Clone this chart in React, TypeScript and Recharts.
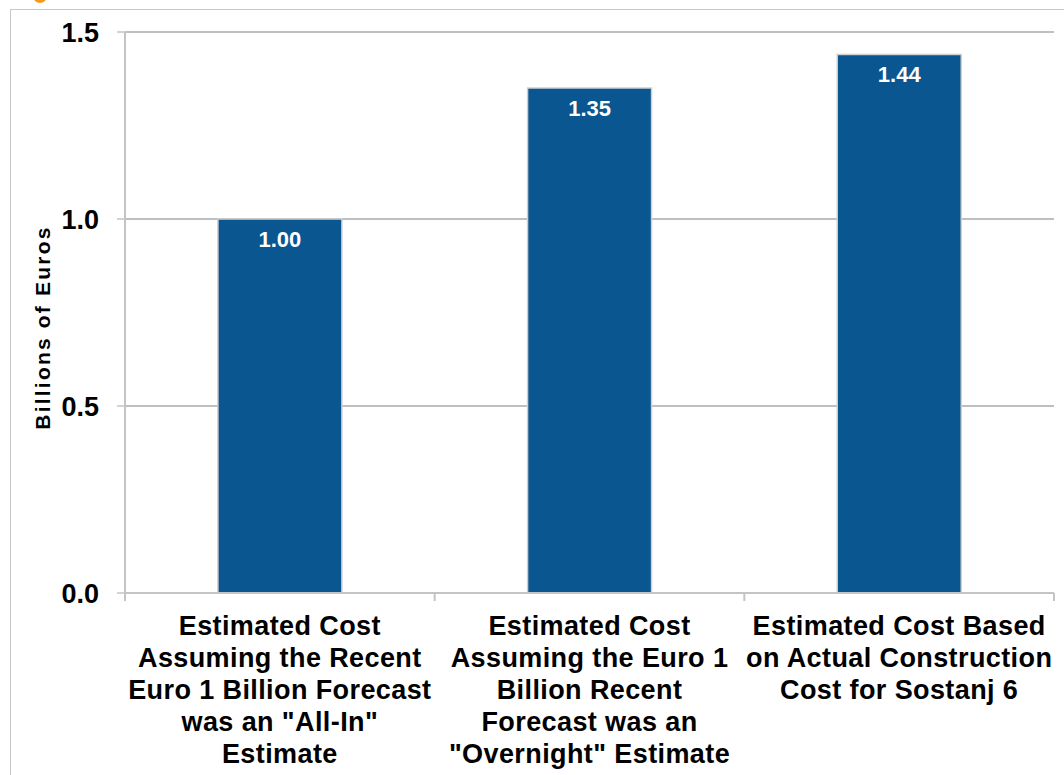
import { Bar, BarChart, CartesianGrid, LabelList, XAxis, YAxis } from 'recharts'

const categories = [
  'Estimated Cost\nAssuming the Recent\nEuro 1 Billion Forecast\nwas an "All-In"\nEstimate',
  'Estimated Cost\nAssuming the Euro 1\nBillion Recent\nForecast was an\n"Overnight" Estimate',
  'Estimated Cost Based\non Actual Construction\nCost for Sostanj 6',
]
const costs = [1.0, 1.35, 1.44]
const yTicks = [0, 0.5, 1.0, 1.5]

const data = categories.map((name, i) => ({ name, cost: costs[i] }))

const W = 1064
const H = 775
const margin = { top: 32, right: 10, bottom: 0, left: 0 }
const yAxisWidth = 125
const bandHalf = (W - margin.left - margin.right - yAxisWidth) / categories.length / 2

const font = '"Liberation Sans", Arial, Helvetica, sans-serif'
const axisGray = '#c4c4c4'

function CategoryTick(props: any) {
  const { x, y, payload, index } = props
  const lines = String(payload.value).split('\n')
  return (
    <g>
      {index === 0 && (
        <line x1={x - bandHalf} x2={x - bandHalf} y1={y - 8} y2={y} stroke={axisGray} strokeWidth={2} />
      )}
      <line x1={x + bandHalf} x2={x + bandHalf} y1={y - 8} y2={y} stroke={axisGray} strokeWidth={2} />
      <text
        x={x}
        y={y + 34}
        textAnchor="middle"
        fontFamily={font}
        fontSize={27}
        fontWeight="bold"
        letterSpacing={0.4}
        fill="#000"
      >
        {lines.map((l, i) => (
          <tspan key={i} x={x} dy={i === 0 ? 0 : 32}>
            {l}
          </tspan>
        ))}
      </text>
    </g>
  )
}

function ValueTick(props: any) {
  const { x, y, payload } = props
  return (
    <text x={x - 16} y={y + 10} textAnchor="end" fontFamily={font} fontSize={27} fontWeight="bold" fill="#000">
      {Number(payload.value).toFixed(1)}
    </text>
  )
}

function YTitle(props: any) {
  const { viewBox } = props
  const cy = viewBox.y + viewBox.height / 2 + 15
  return (
    <text
      x={50}
      y={cy}
      transform={`rotate(-90, 50, ${cy})`}
      textAnchor="middle"
      fontFamily={font}
      fontSize={21}
      fontWeight="bold"
      letterSpacing={2.2}
      fill="#000"
    >
      Billions of Euros
    </text>
  )
}

export default function App() {
  return (
    <div style={{ position: 'absolute', left: 0, top: 0, width: W, height: H, overflow: 'hidden', background: '#fff' }}>
      <div
        style={{
          position: 'absolute',
          left: 10,
          top: 9,
          width: W,
          height: H,
          border: '1.5px solid #c8c8c8',
        }}
      />
      <div
        style={{
          position: 'absolute',
          left: 33,
          top: -11,
          width: 14,
          height: 14,
          borderRadius: '50%',
          background: '#f39a1e',
        }}
      />
      <BarChart width={W} height={H} data={data} margin={margin} barCategoryGap="30%" style={{ position: 'absolute', left: 0, top: 0 }}>
        <CartesianGrid vertical={false} stroke="#bfbfbf" strokeWidth={2} />
        <XAxis
          dataKey="name"
          interval={0}
          height={H - 593}
          tickLine={false}
          axisLine={{ stroke: axisGray, strokeWidth: 2 }}
          tick={<CategoryTick />}
        />
        <YAxis
          width={yAxisWidth}
          domain={[0, 1.5]}
          ticks={yTicks}
          tickSize={8}
          tickLine={{ stroke: axisGray, strokeWidth: 1.5 }}
          axisLine={{ stroke: axisGray, strokeWidth: 2 }}
          tick={<ValueTick />}
          label={<YTitle />}
        />
        <Bar dataKey="cost" fill="#0A5690" stroke="#cfcfcf" strokeWidth={1.5} isAnimationActive={false}>
          <LabelList
            dataKey="cost"
            position="insideTop"
            offset={12}
            formatter={(v: any) => Number(v).toFixed(2)}
            style={{ fill: '#fff', fontFamily: font, fontSize: 22, fontWeight: 'bold' }}
          />
        </Bar>
      </BarChart>
    </div>
  )
}
